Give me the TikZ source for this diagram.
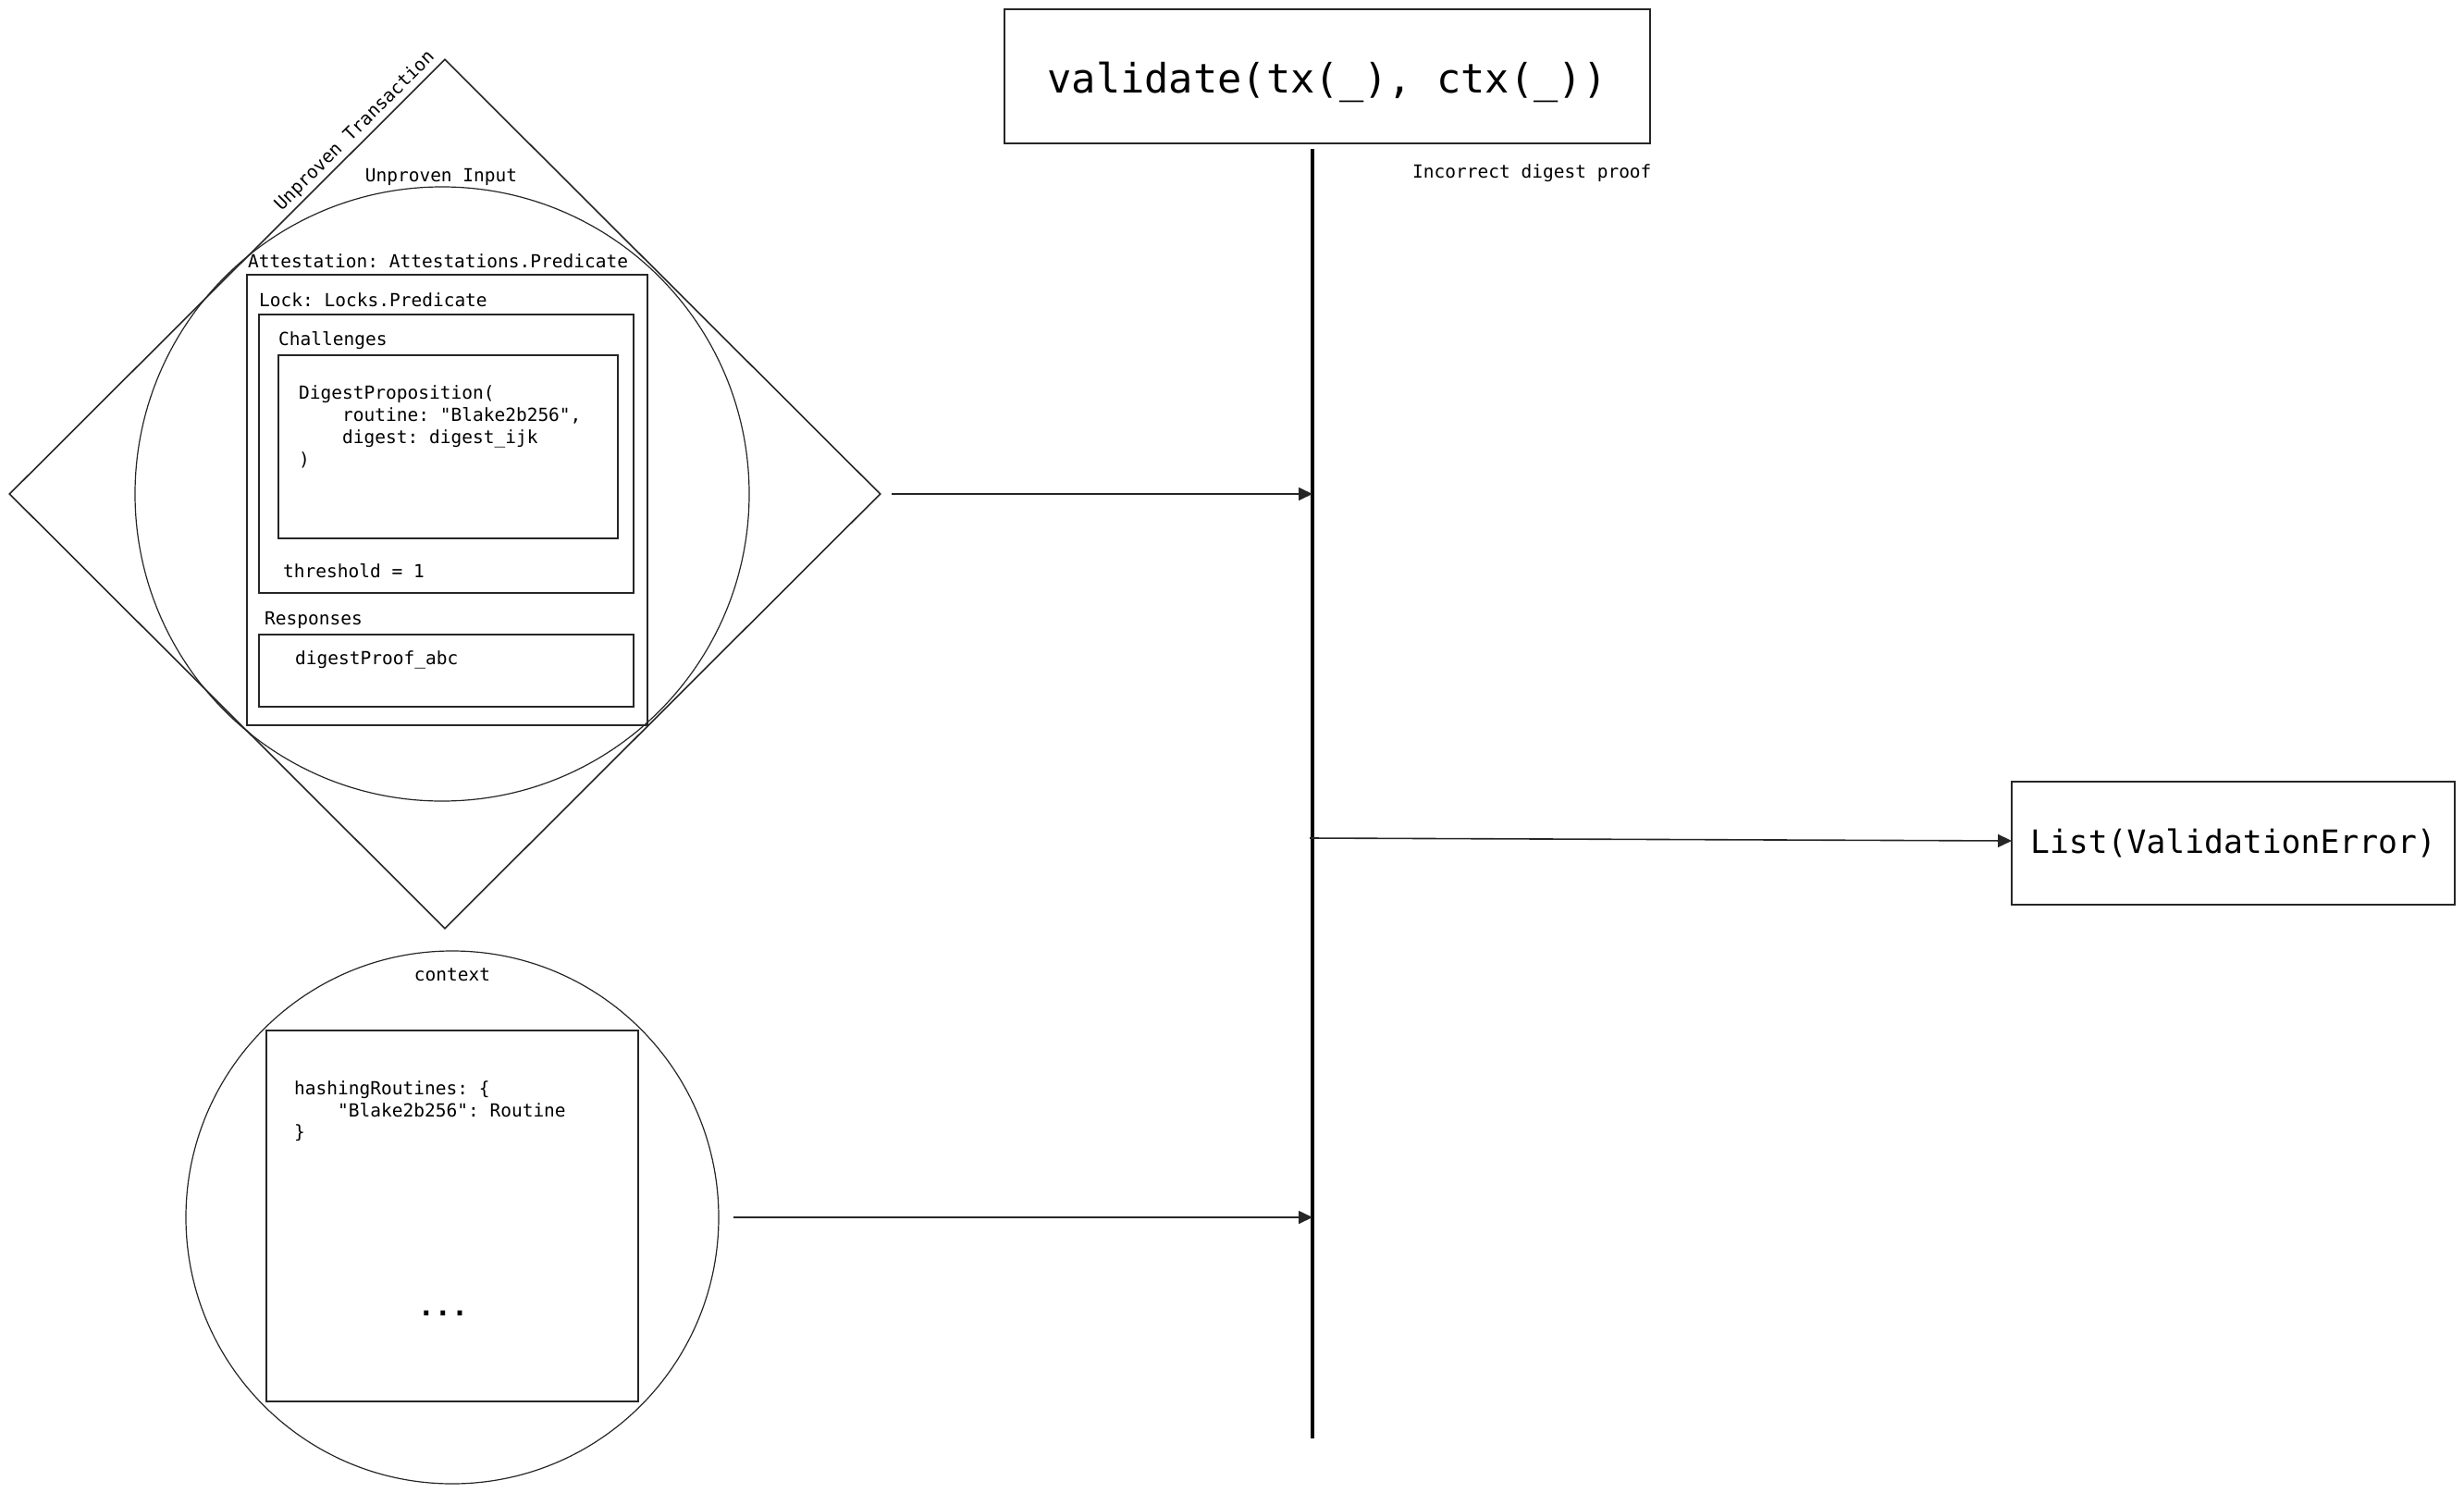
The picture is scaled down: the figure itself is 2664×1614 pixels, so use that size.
\documentclass[tikz,border=0pt]{standalone}
\usepackage{fontspec}
\setmonofont{DejaVu Sans Mono}
\usetikzlibrary{shapes.geometric,arrows.meta}
\begin{document}
\begin{tikzpicture}[x=1pt,y=-1pt,
  thin line/.style={draw=black!85,line width=1.6pt},
  box/.style={thin line, rectangle, inner sep=0pt, outer sep=0pt, anchor=north west},
  code/.style={font=\ttfamily\fontsize{19.5}{24}\selectfont, inner sep=0pt, anchor=mid west, text=black},
  arr/.style={draw=black!85, line width=1.6pt, -{Triangle[length=15pt,width=14pt]}},
]
\useasboundingbox (0,0) rectangle (2664,1614);

% --- unproven transaction (diamond) with its input (circle)
\node[diamond, thin line, minimum width=942pt, minimum height=940pt, inner sep=0pt] (tx) at (481,534) {};
\node[code, anchor=mid, rotate=45] (txl) at (386,144) {Unproven Transaction};
\node[circle, draw=black!85, line width=1.2pt, minimum size=664pt, inner sep=0pt] (inp) at (478,534) {};
\node[code, anchor=mid] (inpl) at (477,194) {Unproven Input};

% attestation
\node[code] (attl) at (268,287) {Attestation: Attestations.Predicate};
\node[box, minimum width=433pt, minimum height=487pt] (att) at (267,297) {};

% lock
\node[code] (lockl) at (280,329) {Lock: Locks.Predicate};
\node[box, minimum width=405pt, minimum height=301pt] (lock) at (280,340) {};

% challenges
\node[code] (chl) at (301,371) {Challenges};
\node[box, minimum width=367pt, minimum height=198pt] (ch) at (301,384) {};
\node[code] (d1) at (323,429) {DigestProposition(};
\node[code] (d2) at (370,453) {routine: "Blake2b256",};
\node[code] (d3) at (370,477) {digest: digest\_ijk};
\node[code] (d4) at (323,501) {)};
\node[code] (thr) at (306,622) {threshold = 1};

% responses
\node[code] (rspl) at (286,673) {Responses};
\node[box, minimum width=405pt, minimum height=78pt] (rsp) at (280,686) {};
\node[code] (prf) at (319,716) {digestProof\_abc};

% --- context
\node[circle, draw=black!85, line width=1.2pt, minimum size=576pt, inner sep=0pt] (ctx) at (489,1316) {};
\node[code, anchor=mid] (ctxl) at (489,1058) {context};
\node[box, minimum width=402pt, minimum height=401pt] (ctxb) at (288,1114) {};
\node[code] (h1) at (318,1181) {hashingRoutines: \{};
\node[code] (h2) at (365,1205) {"Blake2b256": Routine};
\node[code] (h3) at (318,1228) {\}};
\node[code, anchor=base, font=\ttfamily\bfseries\fontsize{30}{34}\selectfont] (dots) at (479,1422) {...};

% --- validation
\node[box, anchor=center, minimum width=698pt, minimum height=145pt,
      font=\ttfamily\fontsize{43.7}{50}\selectfont, text depth=0pt] (val) at (1435,82.5) {\raisebox{-3pt}{validate(tx(\_), ctx(\_))}};
\coordinate (vtop) at (1419,161);
\coordinate (vbot) at (1419,1555);
\draw[black, line width=4pt] (vtop) -- (vbot);
\node[code] (msg) at (1527,190) {Incorrect digest proof};

\node[box, anchor=center, minimum width=479pt, minimum height=133pt,
      font=\ttfamily\fontsize{34.7}{40}\selectfont] (err) at (2414.5,911.5) {List(ValidationError)};

% --- connectors
\draw[arr] ([xshift=11pt]tx.east) -- (tx.east -| vtop);
\coordinate (out) at (1416,906);
\draw[arr] (out) -- ([yshift=2.5pt]err.west);
\draw[arr] ([xshift=15pt]ctx.east) -- (ctx.east -| vtop);
\end{tikzpicture}
\end{document}
